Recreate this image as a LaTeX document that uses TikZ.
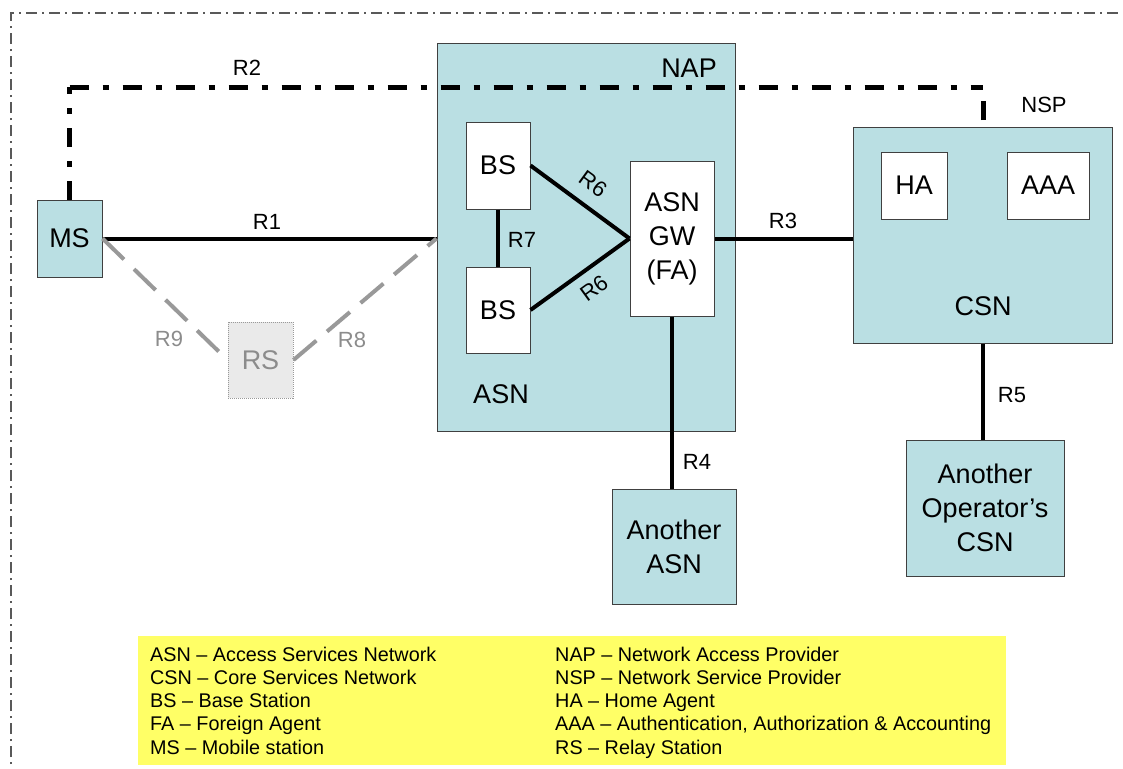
\documentclass[tikz,border=0pt]{standalone}
\usepackage{fontspec}
\setmainfont{Liberation Sans}
\definecolor{lblue}{RGB}{186,223,227}
\definecolor{legyellow}{RGB}{255,255,102}
\definecolor{relaygray}{RGB}{153,153,153}
\definecolor{relaytext}{RGB}{140,140,140}
\definecolor{rsfill}{RGB}{234,234,234}
\begin{document}
\begin{tikzpicture}[x=1pt,y=-1pt,
  box/.style={draw=black!75, line width=1pt, fill=lblue, inner sep=0pt, align=center,
              font=\fontsize{27}{34}\selectfont},
  wbox/.style={box, fill=white},
  lab/.style={font=\fontsize{22}{26}\selectfont, inner sep=0pt},
  biglab/.style={font=\fontsize{27}{34}\selectfont, inner sep=0pt},
  leg/.style={font=\fontsize{19.8}{23}\selectfont, inner sep=0pt, anchor=base west},
  link/.style={line width=4pt},
  relay/.style={line width=4pt, draw=relaygray, dash pattern=on 30pt off 14pt},
  r2line/.style={line width=5pt, dash pattern=on 19pt off 14pt on 6pt off 14pt},
  frame/.style={line width=1.5pt, draw=black!65, dash pattern=on 11pt off 5pt on 2pt off 5pt}]
\useasboundingbox (0,0) rectangle (1123,768);

% outer frame
\draw[frame] (11,780) -- (11,13) -- (1135,13);

% legend
\fill[legyellow] (138,636) rectangle (1006,765);
\node[leg] (l1) at (150,661) {ASN -- Access Services Network};
\node[leg] (l2) at (150,684) {CSN -- Core Services Network};
\node[leg] (l3) at (150,707.5) {BS -- Base Station};
\node[leg] (l4) at (150,730.5) {FA -- Foreign Agent};
\node[leg] (l5) at (150,754) {MS -- Mobile station};
\node[leg] (r1) at (555,661) {NAP -- Network Access Provider};
\node[leg] (r2) at (555,684) {NSP -- Network Service Provider};
\node[leg] (r3) at (555,707.5) {HA -- Home Agent};
\node[leg] (r4) at (555,730.5) {AAA -- Authentication, Authorization \& Accounting};
\node[leg] (r5) at (555,754) {RS -- Relay Station};

% boxes
\node[box, minimum width=298, minimum height=387] (NAP) at (586,237.5) {};
\node[biglab] (naplab) at (689,68) {NAP};
\node[biglab] (asnlab) at (501,394) {ASN};
\node[wbox, minimum width=64, minimum height=87] (BS1) at (498,165.5) {BS};
\node[wbox, minimum width=64, minimum height=86] (BS2) at (498,310) {BS};
\node[wbox, minimum width=84, minimum height=155] (GW) at (672,238.5) {ASN\\GW\\(FA)};

\node[box, minimum width=259, minimum height=216] (CSN) at (982.5,235) {};
\node[biglab] (csnlab) at (983,306) {CSN};
\node[wbox, minimum width=66, minimum height=67] (HA) at (914,185.5) {HA};
\node[wbox, minimum width=82, minimum height=67] (AAA) at (1048,185.5) {AAA};
\node[lab] (nsplab) at (1044,105) {NSP};

\node[box, minimum width=158, minimum height=136] (OCSN) at (985,508) {Another\\Operator’s\\CSN};
\node[box, minimum width=124, minimum height=115] (AASN) at (674,546.5) {Another\\ASN};

\node[box, minimum width=65, minimum height=77] (MS) at (69.5,238.5) {MS};
\node[box, draw=relaygray, densely dotted, line width=1pt, fill=rsfill, text=relaytext,
      minimum width=65, minimum height=76] (RS) at (260.5,360) {RS};

% R2 dash-dot path
\coordinate (r2end) at (983,120);
\coordinate (r2a) at (MS.north |- 0,87);
\coordinate (r2b) at (r2end |- 0,87);
\draw[r2line] (MS.north) -- (r2a);
\draw[r2line] (r2a) -- (r2b);
\draw[r2line] (r2end) -- (r2b);
\node[lab] (R2) at (247,68) {R2};

% links
\coordinate (napR1) at (MS.east -| NAP.west);
\draw[link] (MS.east) -- (napR1);
\node[lab] (R1) at (267,222) {R1};

\draw[relay] (MS.east) -- (RS.west);
\draw[relay] (RS.east) -- (napR1);
\node[lab, text=relaytext] (R9) at (169,339) {R9};
\node[lab, text=relaytext] (R8) at (352,340) {R8};

\draw[link] (BS1.south) -- (BS2.north);
\node[lab] (R7) at (522,240) {R7};

\draw[link] (BS1.east) -- (GW.west);
\draw[link] (BS2.east) -- (GW.west);
\node[lab, rotate=-36] (R6a) at (593,184) {R6};
\node[lab, rotate=36] (R6b) at (594,288) {R6};

\draw[link] (GW.east) -- (GW.east -| CSN.west);
\node[lab] (R3) at (783,221) {R3};

\draw[link] (GW.south) -- (GW.south |- AASN.north);
\node[lab] (R4) at (697,462) {R4};

\draw[link] (CSN.south) -- (CSN.south |- OCSN.north);
\node[lab] (R5) at (1012,395) {R5};
\end{tikzpicture}
\end{document}
